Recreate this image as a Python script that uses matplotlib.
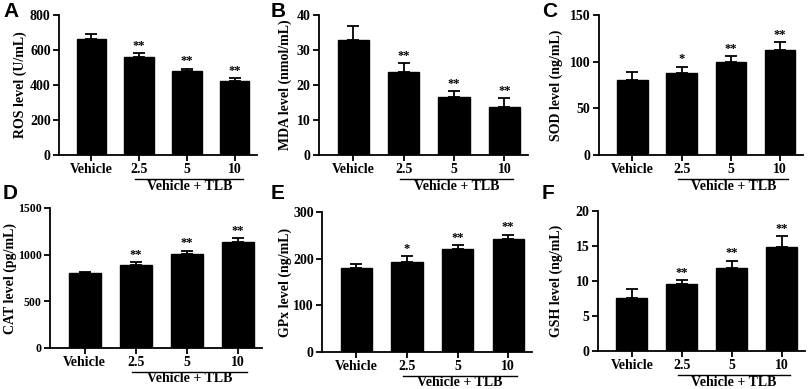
import numpy as np
import matplotlib
matplotlib.use('Agg')
import matplotlib.pyplot as plt
import matplotlib.transforms as mtransforms

plt.rcParams['font.family'] = ['Liberation Serif', 'DejaVu Serif']
plt.rcParams['font.weight'] = 'bold'

groups = ['Vehicle', '2.5', '5', '10']

# mean values and upper error (SD) for each panel
ros = [665, 562, 478, 423]
ros_err = [28, 19, 15, 15]
ros_sig = ['', '**', '**', '**']

mda = [33.0, 23.7, 16.7, 13.8]
mda_err = [4.0, 2.5, 1.6, 2.5]
mda_sig = ['', '**', '**', '**']

sod = [80.3, 88.3, 100, 112]
sod_err = [8.7, 6.2, 6.0, 9.0]
sod_sig = ['', '*', '**', '**']

cat = [800, 890, 1005, 1141]
cat_err = [18, 28, 39, 36]
cat_sig = ['', '**', '**', '**']

gpx = [179, 193, 221, 242]
gpx_err = [10, 12, 8, 9]
gpx_sig = ['', '*', '**', '**']

gsh = [7.6, 9.6, 11.9, 14.9]
gsh_err = [1.3, 0.5, 1.0, 1.5]
gsh_sig = ['', '**', '**', '**']

# letter, data, label, y max, y step, axes box (px: left, right, top, bottom),
# letter pos (px), y label centre x (px), y tick label size
panels = [
    ('A', ros, ros_err, ros_sig, 'ROS level (U/mL)', 800, 200, [59, 257, 15, 155], (3, 2), 20, 10),
    ('B', mda, mda_err, mda_sig, 'MDA level (nmol/mL)', 40, 10, [319, 528, 15, 155], (271, 2), 285, 10),
    ('C', sod, sod_err, sod_sig, 'SOD level (ng/mL)', 150, 50, [599, 803, 15, 155], (542, 2), 556, 10),
    ('D', cat, cat_err, cat_sig, 'CAT level (pg/mL)', 1500, 500, [50, 262, 208, 348], (3, 184), 10, 8.5),
    ('E', gpx, gpx_err, gpx_sig, 'GPx level (ng/mL)', 300, 100, [322, 532, 212, 352], (271, 184), 285, 10),
    ('F', gsh, gsh_err, gsh_sig, 'GSH level (ng/mL)', 20, 5, [598, 805, 211, 351], (542, 184), 556, 10),
]

W, H = 809, 389
fig = plt.figure(figsize=(W / 100, H / 100), dpi=100)

x = np.arange(len(groups))

for letter, vals, errs, sig, ylabel, ymax, step, box, lpos, labx, ysize in panels:
    l, r, t, b = box
    ax = fig.add_axes([l / W, 1 - b / H, (r - l) / W, (b - t) / H])
    ax.bar(x, vals, width=0.62, color='black', edgecolor='black', zorder=2)
    ax.errorbar(x, vals, yerr=[np.zeros(len(vals)), errs], fmt='none',
                ecolor='black', elinewidth=1.3, capsize=4.5, capthick=1.3, zorder=1)
    for xi, v, e, s in zip(x, vals, errs, sig):
        if s:
            ax.text(xi, v + e + ymax * 0.01, s, ha='center', va='bottom',
                    fontsize=9, fontweight='bold')
    ax.set_xlim(-0.68, 3.47)
    ax.set_ylim(0, ymax)
    ax.set_yticks(np.arange(0, ymax + 1e-9, step))
    ax.set_xticks(x)
    ax.set_xticklabels(groups)
    ax.set_ylabel(ylabel, fontsize=10, fontweight='bold', va='center')
    ax.yaxis.set_label_coords((labx - l) / (r - l), 0.5)
    for sp in ['top', 'right']:
        ax.spines[sp].set_visible(False)
    for sp in ['left', 'bottom']:
        ax.spines[sp].set_linewidth(1.3)
    ax.tick_params(axis='both', width=1.3, length=4, labelsize=10, pad=2)
    ax.tick_params(axis='y', labelsize=ysize)

    # group underline and label
    hpx = b - t
    trans = mtransforms.blended_transform_factory(ax.transData, ax.transAxes)
    ax.plot([0.92, 3.17], [-24 / hpx, -24 / hpx], color='black', lw=1.0,
            transform=trans, clip_on=False)
    ax.text(2.05, -31 / hpx, 'Vehicle + TLB', transform=trans, ha='center', va='center',
            fontsize=10, fontweight='bold')

    fig.text(lpos[0] / W, 1 - lpos[1] / H, letter, fontsize=15, fontweight='bold',
             family='Liberation Sans', ha='left', va='top')

fig.savefig('out.png', dpi=100)
